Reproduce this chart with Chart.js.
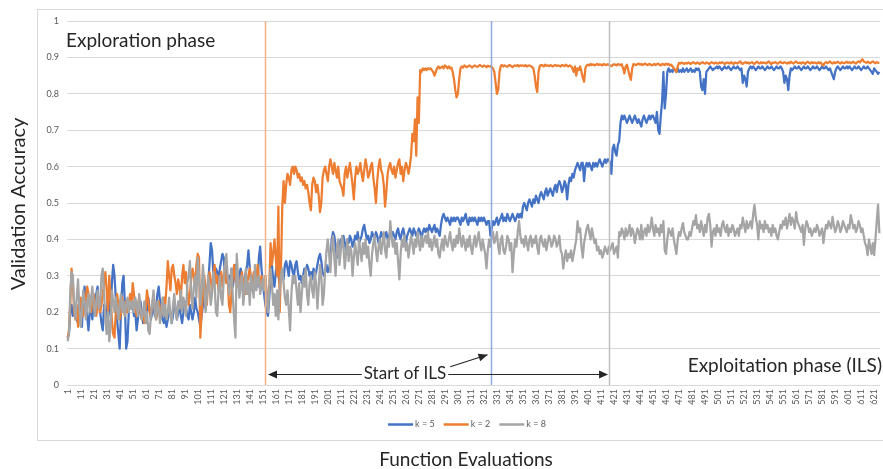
<!DOCTYPE html>
<html>
<head>
<meta charset="utf-8">
<script src="https://cdn.jsdelivr.net/npm/chart.js@4.4.1/dist/chart.umd.min.js"></script>
<style>
  html, body { margin: 0; padding: 0; background: #fff; }
</style>
</head>
<body>
<canvas id="myChart" width="883" height="469"></canvas>
<script>
// function evaluations 1..625 (x categories)
const evaluations = Array.from({ length: 625 }, (_, i) => i + 1);

// validation accuracy, k = 5
const k5 = [
  0.13,0.14,0.2,0.22,0.19,0.2,0.21,0.18,0.17,0.22,0.2,0.16,0.24,0.27,0.21,0.19,0.15,0.2,0.22,0.18,0.23,0.2,0.25,0.27,0.22,
  0.2,0.17,0.15,0.22,0.2,0.18,0.25,0.22,0.19,0.28,0.33,0.3,0.24,0.18,0.14,0.1,0.2,0.28,0.3,0.22,0.1,0.12,0.2,0.24,0.21,
  0.22,0.19,0.2,0.15,0.18,0.21,0.23,0.2,0.17,0.19,0.22,0.2,0.24,0.21,0.18,0.2,0.22,0.19,0.21,0.25,0.27,0.23,0.2,0.18,0.17,
  0.19,0.16,0.18,0.21,0.2,0.17,0.19,0.23,0.21,0.18,0.2,0.22,0.19,0.17,0.2,0.23,0.21,0.19,0.18,0.22,0.2,0.18,0.2,0.24,0.21,
  0.2,0.18,0.16,0.19,0.22,0.24,0.21,0.25,0.28,0.33,0.39,0.37,0.31,0.3,0.32,0.31,0.29,0.32,0.34,0.36,0.35,0.3,0.32,0.28,0.3,
  0.29,0.32,0.27,0.3,0.33,0.31,0.28,0.3,0.32,0.3,0.27,0.29,0.31,0.33,0.37,0.32,0.28,0.26,0.3,0.31,0.29,0.27,0.35,0.38,0.32,
  0.28,0.25,0.22,0.2,0.19,0.24,0.3,0.33,0.29,0.27,0.31,0.33,0.3,0.28,0.32,0.3,0.29,0.33,0.34,0.32,0.3,0.34,0.33,0.31,0.3,
  0.33,0.34,0.31,0.29,0.3,0.28,0.3,0.32,0.31,0.33,0.32,0.3,0.31,0.29,0.32,0.3,0.31,0.33,0.35,0.36,0.34,0.31,0.3,0.31,0.33,
  0.31,0.32,0.34,0.4,0.42,0.41,0.38,0.35,0.37,0.39,0.4,0.38,0.41,0.39,0.37,0.4,0.39,0.41,0.4,0.38,0.39,0.41,0.4,0.42,0.39,
  0.4,0.41,0.43,0.44,0.42,0.4,0.41,0.39,0.4,0.42,0.41,0.4,0.42,0.41,0.39,0.4,0.42,0.41,0.4,0.41,0.42,0.4,0.41,0.42,0.41,
  0.42,0.41,0.4,0.42,0.43,0.41,0.4,0.42,0.43,0.41,0.39,0.41,0.42,0.43,0.42,0.41,0.43,0.42,0.41,0.42,0.43,0.42,0.4,0.42,0.43,
  0.42,0.43,0.42,0.44,0.43,0.42,0.43,0.44,0.42,0.43,0.42,0.41,0.44,0.46,0.47,0.46,0.45,0.46,0.45,0.44,0.46,0.45,0.46,0.45,0.46,
  0.46,0.45,0.44,0.46,0.45,0.46,0.47,0.45,0.44,0.46,0.45,0.46,0.45,0.46,0.45,0.44,0.46,0.45,0.46,0.45,0.46,0.45,0.44,0.45,0.45,
  0.41,0.43,0.45,0.44,0.45,0.46,0.44,0.45,0.46,0.47,0.45,0.46,0.45,0.47,0.46,0.45,0.46,0.47,0.46,0.45,0.46,0.47,0.46,0.47,0.46,
  0.49,0.5,0.49,0.48,0.5,0.51,0.5,0.49,0.51,0.5,0.52,0.51,0.5,0.52,0.53,0.52,0.51,0.53,0.54,0.52,0.53,0.54,0.53,0.52,0.54,
  0.55,0.53,0.55,0.56,0.55,0.53,0.54,0.56,0.55,0.51,0.55,0.57,0.56,0.58,0.57,0.59,0.6,0.61,0.6,0.59,0.61,0.61,0.56,0.6,0.61,
  0.6,0.61,0.6,0.59,0.61,0.6,0.61,0.6,0.61,0.62,0.61,0.6,0.61,0.62,0.61,0.62,0.62,0.61,0.58,0.65,0.66,0.64,0.63,0.66,0.67,
  0.72,0.74,0.73,0.74,0.73,0.72,0.73,0.74,0.73,0.72,0.73,0.74,0.73,0.72,0.73,0.72,0.71,0.73,0.74,0.73,0.72,0.73,0.74,0.73,0.74,
  0.74,0.73,0.72,0.75,0.7,0.69,0.74,0.78,0.86,0.76,0.8,0.86,0.87,0.86,0.865,0.86,0.87,0.865,0.86,0.87,0.86,0.865,0.86,0.87,0.86,
  0.865,0.87,0.86,0.865,0.87,0.86,0.865,0.86,0.87,0.865,0.87,0.86,0.82,0.81,0.84,0.8,0.86,0.865,0.87,0.875,0.87,0.865,0.87,0.87,0.875,
  0.87,0.875,0.87,0.865,0.87,0.875,0.87,0.87,0.875,0.87,0.865,0.87,0.875,0.87,0.87,0.875,0.87,0.865,0.87,0.83,0.85,0.84,0.82,0.86,0.87,
  0.875,0.87,0.875,0.87,0.865,0.87,0.875,0.87,0.87,0.875,0.87,0.865,0.87,0.875,0.87,0.87,0.875,0.87,0.865,0.87,0.875,0.87,0.87,0.875,0.87,
  0.86,0.83,0.85,0.84,0.81,0.85,0.87,0.865,0.87,0.875,0.87,0.87,0.875,0.87,0.865,0.87,0.875,0.87,0.87,0.875,0.87,0.865,0.87,0.875,0.87,
  0.87,0.875,0.87,0.865,0.87,0.875,0.87,0.87,0.875,0.87,0.865,0.87,0.86,0.85,0.84,0.86,0.87,0.875,0.87,0.865,0.87,0.875,0.87,0.87,0.875,
  0.87,0.875,0.87,0.865,0.87,0.875,0.87,0.87,0.875,0.87,0.865,0.87,0.875,0.87,0.87,0.875,0.87,0.865,0.86,0.855,0.87,0.865,0.86,0.855,0.86
];

// validation accuracy, k = 2
const k2 = [
  0.13,0.15,0.22,0.32,0.28,0.2,0.18,0.22,0.16,0.2,0.24,0.22,0.19,0.21,0.24,0.27,0.25,0.22,0.2,0.23,0.25,0.22,0.19,0.21,0.24,
  0.2,0.22,0.25,0.28,0.31,0.26,0.2,0.3,0.24,0.18,0.14,0.13,0.2,0.25,0.22,0.18,0.2,0.24,0.21,0.19,0.23,0.2,0.22,0.25,0.21,
  0.28,0.25,0.21,0.19,0.22,0.24,0.2,0.18,0.2,0.17,0.21,0.26,0.23,0.2,0.19,0.22,0.25,0.21,0.18,0.2,0.23,0.21,0.19,0.22,0.24,
  0.22,0.27,0.34,0.3,0.26,0.32,0.33,0.3,0.28,0.25,0.29,0.27,0.23,0.3,0.33,0.28,0.31,0.26,0.22,0.25,0.29,0.32,0.3,0.27,0.33,
  0.36,0.35,0.13,0.2,0.25,0.3,0.27,0.22,0.28,0.31,0.29,0.26,0.3,0.33,0.28,0.3,0.26,0.29,0.31,0.27,0.3,0.32,0.28,0.3,0.22,
  0.2,0.26,0.3,0.33,0.29,0.27,0.3,0.25,0.28,0.31,0.27,0.29,0.25,0.28,0.3,0.32,0.29,0.27,0.31,0.3,0.28,0.33,0.29,0.27,0.3,
  0.28,0.27,0.3,0.25,0.23,0.27,0.39,0.33,0.36,0.4,0.35,0.3,0.49,0.2,0.32,0.49,0.56,0.5,0.55,0.58,0.57,0.55,0.59,0.6,0.58,
  0.6,0.59,0.57,0.58,0.56,0.57,0.55,0.56,0.54,0.55,0.53,0.5,0.48,0.55,0.57,0.56,0.53,0.55,0.52,0.475,0.5,0.57,0.59,0.6,0.58,
  0.56,0.6,0.62,0.6,0.58,0.61,0.59,0.57,0.6,0.56,0.55,0.54,0.52,0.58,0.6,0.57,0.59,0.61,0.58,0.55,0.51,0.57,0.6,0.58,0.59,
  0.61,0.58,0.56,0.59,0.62,0.6,0.57,0.58,0.6,0.61,0.57,0.54,0.5,0.56,0.6,0.62,0.59,0.58,0.55,0.49,0.53,0.58,0.6,0.61,0.59,
  0.58,0.6,0.57,0.59,0.61,0.62,0.58,0.6,0.56,0.59,0.61,0.6,0.58,0.6,0.63,0.69,0.67,0.73,0.63,0.79,0.72,0.865,0.86,0.87,0.865,
  0.87,0.865,0.87,0.868,0.87,0.865,0.86,0.85,0.86,0.87,0.875,0.87,0.872,0.875,0.87,0.878,0.875,0.87,0.875,0.87,0.872,0.86,0.84,0.81,0.79,
  0.8,0.84,0.87,0.875,0.872,0.878,0.875,0.873,0.876,0.878,0.875,0.872,0.876,0.878,0.875,0.874,0.877,0.879,0.876,0.874,0.878,0.876,0.873,0.877,0.875,
  0.876,0.873,0.87,0.86,0.83,0.8,0.81,0.86,0.877,0.879,0.875,0.878,0.876,0.874,0.878,0.879,0.876,0.873,0.877,0.878,0.876,0.879,0.875,0.878,0.877,
  0.878,0.876,0.879,0.875,0.877,0.878,0.876,0.873,0.87,0.85,0.82,0.805,0.86,0.877,0.879,0.878,0.875,0.88,0.877,0.878,0.876,0.879,0.877,0.875,0.878,
  0.879,0.876,0.878,0.877,0.875,0.879,0.878,0.876,0.88,0.877,0.875,0.878,0.876,0.87,0.86,0.875,0.85,0.87,0.865,0.875,0.86,0.845,0.833,0.87,0.878,
  0.88,0.878,0.882,0.879,0.881,0.878,0.88,0.882,0.879,0.881,0.88,0.878,0.882,0.88,0.879,0.881,0.88,0.878,0.876,0.879,0.881,0.88,0.878,0.882,0.88,
  0.879,0.881,0.87,0.856,0.875,0.88,0.865,0.85,0.838,0.87,0.882,0.88,0.879,0.881,0.883,0.88,0.882,0.879,0.881,0.883,0.88,0.879,0.882,0.881,0.878,
  0.88,0.882,0.879,0.881,0.883,0.88,0.878,0.882,0.881,0.879,0.883,0.88,0.882,0.878,0.88,0.875,0.87,0.865,0.86,0.875,0.885,0.883,0.886,0.884,0.882,
  0.885,0.883,0.886,0.884,0.882,0.885,0.887,0.884,0.883,0.886,0.884,0.882,0.885,0.887,0.884,0.883,0.886,0.885,0.882,0.884,0.887,0.885,0.883,0.886,0.884,
  0.883,0.886,0.884,0.887,0.885,0.882,0.884,0.886,0.885,0.883,0.887,0.884,0.882,0.886,0.885,0.883,0.887,0.889,0.884,0.882,0.885,0.887,0.884,0.886,0.883,
  0.885,0.887,0.884,0.882,0.886,0.888,0.885,0.883,0.887,0.884,0.886,0.885,0.883,0.887,0.889,0.884,0.882,0.886,0.885,0.887,0.884,0.883,0.886,0.888,0.885,
  0.884,0.887,0.885,0.883,0.886,0.884,0.888,0.885,0.883,0.887,0.889,0.885,0.884,0.886,0.883,0.887,0.885,0.882,0.886,0.888,0.885,0.883,0.887,0.884,0.886,
  0.885,0.883,0.887,0.884,0.886,0.88,0.878,0.885,0.887,0.884,0.886,0.889,0.885,0.883,0.887,0.884,0.886,0.888,0.885,0.883,0.887,0.885,0.884,0.886,0.888,
  0.885,0.887,0.884,0.886,0.888,0.885,0.883,0.887,0.889,0.886,0.891,0.895,0.889,0.887,0.885,0.888,0.886,0.884,0.887,0.889,0.886,0.884,0.887,0.885,0.886
];

// validation accuracy, k = 8
const k8 = [
  0.12,0.14,0.25,0.31,0.3,0.22,0.18,0.24,0.29,0.21,0.16,0.2,0.26,0.23,0.18,0.22,0.25,0.2,0.24,0.27,0.22,0.19,0.23,0.26,0.21,
  0.22,0.3,0.32,0.25,0.18,0.14,0.2,0.12,0.16,0.26,0.23,0.2,0.24,0.21,0.18,0.22,0.25,0.2,0.23,0.19,0.22,0.24,0.2,0.23,0.21,
  0.23,0.2,0.24,0.22,0.19,0.25,0.21,0.18,0.2,0.23,0.17,0.2,0.15,0.14,0.19,0.22,0.26,0.2,0.18,0.23,0.21,0.17,0.2,0.24,0.19,
  0.22,0.18,0.2,0.24,0.19,0.17,0.22,0.25,0.2,0.18,0.23,0.21,0.26,0.2,0.24,0.22,0.19,0.28,0.3,0.34,0.25,0.21,0.27,0.3,0.24,
  0.35,0.3,0.22,0.26,0.33,0.28,0.2,0.24,0.3,0.27,0.22,0.25,0.31,0.28,0.2,0.19,0.26,0.3,0.24,0.22,0.29,0.33,0.36,0.3,0.25,
  0.28,0.32,0.24,0.18,0.13,0.36,0.3,0.24,0.27,0.3,0.22,0.26,0.32,0.25,0.28,0.22,0.3,0.27,0.24,0.33,0.26,0.29,0.3,0.25,0.27,
  0.29,0.26,0.3,0.24,0.2,0.27,0.32,0.28,0.22,0.25,0.19,0.26,0.18,0.26,0.3,0.32,0.28,0.24,0.22,0.26,0.21,0.15,0.25,0.3,0.28,
  0.3,0.26,0.22,0.28,0.2,0.25,0.3,0.27,0.32,0.25,0.22,0.28,0.3,0.26,0.24,0.31,0.28,0.21,0.27,0.33,0.3,0.22,0.25,0.32,0.37,
  0.4,0.36,0.31,0.38,0.41,0.35,0.3,0.38,0.4,0.33,0.37,0.41,0.38,0.32,0.36,0.4,0.34,0.38,0.37,0.3,0.35,0.39,0.36,0.33,0.4,
  0.37,0.34,0.39,0.36,0.4,0.35,0.38,0.33,0.3,0.36,0.39,0.41,0.37,0.34,0.38,0.4,0.36,0.39,0.42,0.37,0.35,0.4,0.38,0.45,0.41,
  0.38,0.4,0.36,0.39,0.34,0.29,0.36,0.4,0.38,0.41,0.37,0.39,0.35,0.38,0.41,0.39,0.36,0.4,0.38,0.42,0.39,0.37,0.41,0.38,0.4,
  0.41,0.39,0.42,0.38,0.4,0.37,0.39,0.41,0.38,0.4,0.36,0.35,0.38,0.4,0.37,0.41,0.39,0.38,0.4,0.42,0.39,0.37,0.4,0.38,0.41,
  0.39,0.43,0.4,0.38,0.41,0.39,0.37,0.4,0.38,0.41,0.38,0.36,0.39,0.41,0.38,0.4,0.42,0.39,0.37,0.4,0.38,0.36,0.32,0.37,0.4,
  0.38,0.41,0.42,0.39,0.4,0.42,0.38,0.36,0.4,0.41,0.37,0.36,0.38,0.41,0.4,0.37,0.39,0.31,0.36,0.4,0.38,0.42,0.45,0.41,0.39,
  0.4,0.38,0.41,0.39,0.37,0.4,0.41,0.38,0.4,0.39,0.41,0.38,0.36,0.4,0.41,0.39,0.38,0.4,0.37,0.39,0.41,0.4,0.38,0.39,0.41,
  0.4,0.38,0.39,0.41,0.37,0.36,0.32,0.35,0.37,0.34,0.36,0.35,0.37,0.34,0.36,0.38,0.4,0.45,0.42,0.43,0.38,0.35,0.39,0.41,0.43,
  0.44,0.42,0.4,0.43,0.41,0.39,0.4,0.37,0.38,0.36,0.37,0.35,0.36,0.38,0.37,0.36,0.38,0.37,0.38,0.39,0.36,0.37,0.38,0.35,0.42,
  0.41,0.43,0.42,0.4,0.43,0.41,0.42,0.44,0.41,0.43,0.42,0.39,0.41,0.43,0.42,0.4,0.44,0.4,0.42,0.43,0.41,0.44,0.42,0.43,0.46,
  0.43,0.41,0.44,0.42,0.43,0.41,0.44,0.42,0.45,0.37,0.36,0.4,0.43,0.42,0.41,0.43,0.4,0.38,0.36,0.4,0.42,0.41,0.43,0.445,0.42,
  0.41,0.4,0.4,0.42,0.41,0.43,0.45,0.44,0.467,0.43,0.44,0.42,0.45,0.43,0.41,0.44,0.42,0.46,0.47,0.44,0.38,0.42,0.43,0.41,0.44,
  0.42,0.43,0.41,0.44,0.45,0.43,0.42,0.44,0.41,0.43,0.42,0.44,0.43,0.41,0.42,0.43,0.41,0.44,0.43,0.46,0.44,0.42,0.45,0.43,0.44,
  0.45,0.43,0.47,0.495,0.46,0.44,0.4,0.45,0.43,0.44,0.42,0.45,0.43,0.44,0.42,0.43,0.41,0.44,0.42,0.43,0.41,0.4,0.42,0.44,0.43,
  0.45,0.44,0.46,0.43,0.45,0.47,0.44,0.46,0.45,0.43,0.475,0.45,0.44,0.43,0.42,0.44,0.385,0.43,0.45,0.44,0.42,0.43,0.41,0.42,0.43,
  0.42,0.44,0.43,0.41,0.42,0.43,0.39,0.42,0.44,0.43,0.45,0.44,0.43,0.462,0.44,0.42,0.43,0.45,0.44,0.42,0.43,0.45,0.44,0.43,0.42,
  0.44,0.43,0.467,0.45,0.43,0.44,0.42,0.43,0.45,0.44,0.42,0.43,0.41,0.39,0.38,0.357,0.4,0.38,0.36,0.39,0.357,0.4,0.45,0.495,0.417
];

const seriesNames = ['k = 5', 'k = 2', 'k = 8'];
const seriesColors = ['#4472C4', '#ED7D31', '#A5A5A5'];

// where the phases switch (category index, 0 based)
const phaseMarks = [151.7, 325.1, 416.2];
const phaseColors = ['#F4B183', '#8FAADC', '#BFBFBF'];

const FONT = 'Lato, "Open Sans", sans-serif';

function arrowHead(c, x1, y1, x2, y2) {
  const ang = Math.atan2(y2 - y1, x2 - x1);
  const len = 9, half = 4;
  c.beginPath();
  c.moveTo(x2, y2);
  c.lineTo(x2 - len * Math.cos(ang) + half * Math.sin(ang), y2 - len * Math.sin(ang) - half * Math.cos(ang));
  c.lineTo(x2 - len * Math.cos(ang) - half * Math.sin(ang), y2 - len * Math.sin(ang) + half * Math.cos(ang));
  c.closePath();
  c.fill();
}

const extras = {
  id: 'extras',
  beforeDraw(chart) {
    const c = chart.ctx;
    c.save();
    c.fillStyle = '#fff';
    c.fillRect(0, 0, chart.width, chart.height);
    c.strokeStyle = '#D9D9D9';
    c.lineWidth = 1;
    c.strokeRect(37.5, 9.5, 900, 431);
    c.restore();
  },
  afterDatasetsDraw(chart) {
    const c = chart.ctx, xs = chart.scales.x, ys = chart.scales.y, a = chart.chartArea;
    c.save();

    // phase lines
    phaseMarks.forEach((m, i) => {
      const px = Math.round(xs.getPixelForValue(m)) + 0.5;
      c.strokeStyle = phaseColors[i];
      c.lineWidth = 1.5;
      c.beginPath();
      c.moveTo(px, a.top);
      c.lineTo(px, a.bottom);
      c.stroke();
    });

    const xo = xs.getPixelForValue(phaseMarks[0]);
    const xb = xs.getPixelForValue(phaseMarks[1]);
    const xg = xs.getPixelForValue(phaseMarks[2]);
    const ay = Math.round(ys.getPixelForValue(0.03)) + 0.5;

    // "Start of ILS" with double arrow
    c.font = '17px ' + FONT;
    c.fillStyle = '#262626';
    c.textAlign = 'center';
    c.textBaseline = 'middle';
    const label = 'Start of ILS';
    const tw = c.measureText(label).width;
    const tx = 405;
    c.fillText(label, tx, ay - 1);
    c.strokeStyle = '#262626';
    c.lineWidth = 1.2;
    c.beginPath();
    c.moveTo(xo + 4, ay); c.lineTo(tx - tw / 2 - 2, ay);
    c.moveTo(tx + tw / 2 + 2, ay); c.lineTo(xg - 2, ay);
    c.stroke();
    arrowHead(c, tx, ay, xo + 3, ay);
    arrowHead(c, tx, ay, xg - 1, ay);

    // small arrow to blue line
    const sx = tx + tw / 2 + 4, sy = ys.getPixelForValue(0.05);
    const ex = xb - 3, ey = ys.getPixelForValue(0.083);
    c.beginPath();
    c.moveTo(sx, sy); c.lineTo(ex, ey);
    c.stroke();
    arrowHead(c, sx, sy, ex, ey);

    // phase texts
    c.font = '19px ' + FONT;
    c.textBaseline = 'alphabetic';
    c.textAlign = 'left';
    c.fillText('Exploration phase', 66, 47);
    c.textAlign = 'right';
    c.fillText('Exploitation phase (ILS)', 882, 372);

    c.restore();
  },
  afterDraw(chart) {
    const c = chart.ctx;
    c.save();
    // axis titles
    c.fillStyle = '#262626';
    c.font = '19px ' + FONT;
    c.textAlign = 'center';
    c.textBaseline = 'alphabetic';
    c.fillText('Function Evaluations', 466, 466);
    c.translate(25, 204);
    c.rotate(-Math.PI / 2);
    c.font = '20px ' + FONT;
    c.fillText('Validation Accuracy', 0, 0);
    c.setTransform(1, 0, 0, 1, 0, 0);

    // legend
    c.font = '9px ' + FONT;
    c.textBaseline = 'middle';
    c.textAlign = 'left';
    const sw = 25, gap = 2, space = 9;
    const widths = seriesNames.map(n => sw + gap + c.measureText(n).width);
    const total = widths.reduce((s, w) => s + w, 0) + space * (seriesNames.length - 1);
    let lx = 467 - total / 2;
    const ly = 424.5;
    seriesNames.forEach((n, i) => {
      c.strokeStyle = seriesColors[i];
      c.lineWidth = 2.5;
      c.beginPath();
      c.moveTo(lx, ly); c.lineTo(lx + sw, ly);
      c.stroke();
      c.fillStyle = '#595959';
      c.fillText(n, lx + sw + gap, ly);
      lx += widths[i] + space;
    });
    c.restore();
  }
};

const ctx = document.getElementById('myChart');

new Chart(ctx, {
  type: 'line',
  data: {
    labels: evaluations,
    datasets: [
      { label: seriesNames[0], data: k5, borderColor: seriesColors[0], order: 2 },
      { label: seriesNames[1], data: k2, borderColor: seriesColors[1], order: 1 },
      { label: seriesNames[2], data: k8, borderColor: seriesColors[2], order: 0 }
    ]
  },
  options: {
    responsive: false,
    animation: false,
    devicePixelRatio: 1,
    elements: {
      point: { radius: 0 },
      line: { borderWidth: 2.25, tension: 0, borderJoinStyle: 'round' }
    },
    layout: { padding: { left: 37, right: 3, top: 21, bottom: 0 } },
    plugins: {
      legend: { display: false },
      tooltip: { enabled: false }
    },
    scales: {
      x: {
        offset: true,
        grid: { display: false, drawTicks: false },
        border: { display: false },
        ticks: {
          autoSkip: false,
          minRotation: 90,
          maxRotation: 90,
          padding: 4,
          color: '#595959',
          font: { family: FONT, size: 9 },
          callback: function (val, idx) {
            return idx % 10 === 0 ? this.getLabelForValue(val) : null;
          }
        },
        afterFit: s => { s.height = 84; s.paddingLeft = 0; s.paddingRight = 0; }
      },
      y: {
        min: 0,
        max: 1,
        grid: { color: '#D9D9D9', lineWidth: 1, drawTicks: false },
        border: { display: false },
        ticks: {
          stepSize: 0.1,
          padding: 8,
          color: '#595959',
          font: { family: FONT, size: 9 },
          callback: v => String(Math.round(v * 10) / 10)
        },
        afterFit: s => { s.width = 30; }
      }
    }
  },
  plugins: [extras]
});
</script>
</body>
</html>
